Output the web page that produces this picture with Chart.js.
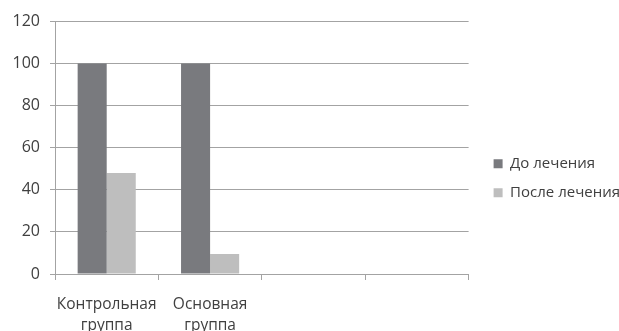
<!DOCTYPE html>
<html>
<head>
<meta charset="utf-8">
<script src="https://cdn.jsdelivr.net/npm/chart.js@4"></script>
<style>
  html, body { margin: 0; padding: 0; background: #ffffff; }
  #wrap { width: 619px; height: 331px; }
</style>
</head>
<body>
<div id="wrap"><canvas id="c" width="619" height="331"></canvas></div>
<script>
const categories = [["Контрольная", "группа"], ["Основная", "группа"], "", ""];
const seriesNames = ["До лечения", "После лечения"];
const beforeValues = [100, 100, null, null];
const afterValues = [48, 9.5, null, null];
const yTicks = [0, 20, 40, 60, 80, 100, 120];

const FONT = "'Open Sans', 'Noto Sans', sans-serif";
const TEXT = '#404040';
const GRID = '#a3a3a3';
const LEGEND_GAP = 11;
const LEGEND_DY = 2;

// shift the legend a little away from the plot area
const legendGap = {
  id: 'legendGap',
  afterLayout(chart) {
    const lg = chart.legend;
    if (lg) {
      lg.left += LEGEND_GAP; lg.right += LEGEND_GAP;
      lg.top += LEGEND_DY; lg.bottom += LEGEND_DY;
    }
  }
};

new Chart(document.getElementById('c'), {
  type: 'bar',
  data: {
    labels: categories,
    datasets: [
      { label: seriesNames[0], data: beforeValues, backgroundColor: '#797a7e', borderWidth: 0, barPercentage: 1, categoryPercentage: 0.562 },
      { label: seriesNames[1], data: afterValues, backgroundColor: '#bebebe', borderWidth: 0, barPercentage: 1, categoryPercentage: 0.562 }
    ]
  },
  plugins: [legendGap],
  options: {
    responsive: false,
    animation: false,
    devicePixelRatio: 1,
    layout: { padding: { top: 21.5, right: 0, bottom: 0, left: 0 } },
    plugins: {
      tooltip: { enabled: false },
      legend: {
        position: 'right',
        align: 'center',
        labels: {
          boxWidth: 9, boxHeight: 9, padding: 14,
          color: TEXT,
          font: { family: FONT, size: 15 }
        }
      }
    },
    scales: {
      x: {
        offset: true,
        grid: { display: true, drawOnChartArea: false, drawTicks: true, tickLength: 6, color: GRID, offset: true },
        border: { display: true, color: GRID, width: 1 },
        ticks: { color: TEXT, font: { family: FONT, size: 15.5, lineHeight: 1.3 }, padding: 15, maxRotation: 0, autoSkip: false },
        afterFit: (s) => { s.height = 57; }
      },
      y: {
        min: 0, max: 120,
        afterBuildTicks: (s) => { s.ticks = yTicks.map(v => ({ value: v })); },
        grid: { color: GRID, tickLength: 5, drawTicks: true },
        border: { display: true, color: GRID, width: 1 },
        ticks: { color: TEXT, font: { family: FONT, size: 16 }, padding: 10 },
        afterFit: (s) => { s.width = 55; }
      }
    }
  }
});
</script>
</body>
</html>
